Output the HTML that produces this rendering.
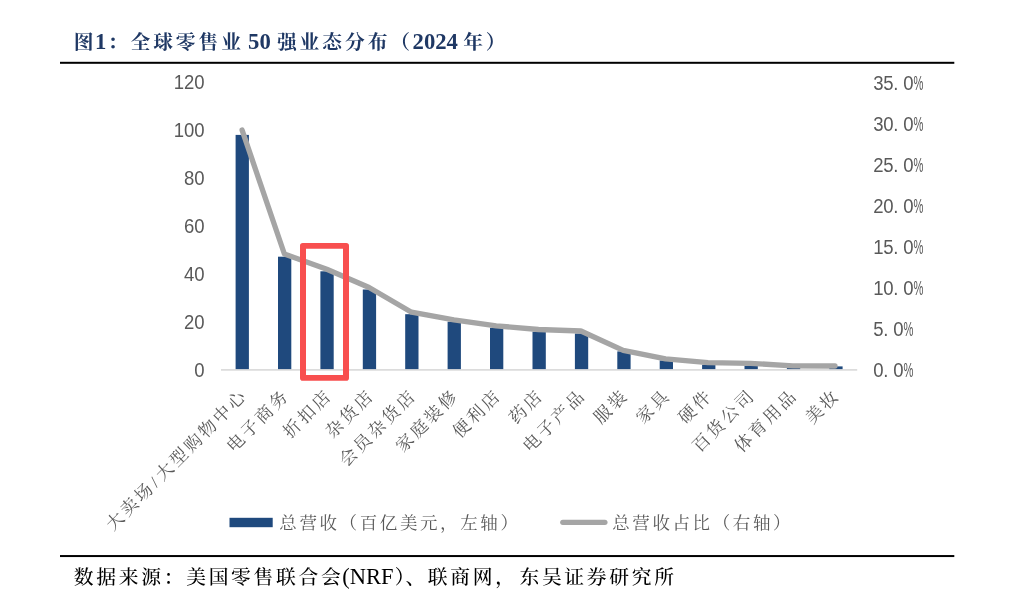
<!DOCTYPE html>
<html lang="zh-CN"><head><meta charset="utf-8"><title>图1：全球零售业50强业态分布（2024年）</title>
<style>html,body{margin:0;padding:0;background:#fff}body{width:1014px;height:597px;overflow:hidden}svg{display:block}
.kai{font-family:"Liberation Serif","Noto Serif CJK SC",serif}.sans{font-family:"Liberation Sans","Noto Sans CJK SC",sans-serif}
.title{font-weight:700;fill:#1f3864}.src{fill:#000}.ax{fill:#595959;font-size:18px}.cat{fill:#595959}.lg{fill:#595959}
</style></head><body>
<svg width="1014" height="597" viewBox="0 0 1014 597">
<rect width="1014" height="597" fill="#fff"/>
<text class="kai title" x="73.75" y="48.6" font-size="19.8" letter-spacing="2.9">图<tspan letter-spacing="0" font-size="22.7" dx="-1.45">1</tspan><tspan dx="1.45">：全球零售业</tspan><tspan letter-spacing="0" font-size="22.7" dx="-1.45"> 50 </tspan><tspan dx="0.45">强业态分布（</tspan><tspan letter-spacing="0" font-size="22.7" dx="-0.45">2024 </tspan><tspan dx="-0.4">年）</tspan></text>
<rect x="60" y="61.8" width="894.3" height="2" fill="#000"/>
<rect x="60" y="555.05" width="894.3" height="2" fill="#000"/>
<text class="kai src" x="73.75" y="583.6" font-size="19.8" letter-spacing="2.7" font-weight="500">数据来源：美国零售联合会<tspan letter-spacing="0" font-size="22.5" font-weight="400" dx="-1.35">(NRF</tspan><tspan dx="1.35">）</tspan><tspan dx="-2">、联商网，<tspan dx="1.6">东吴证券研究所</tspan></tspan></text>
<text class="sans ax" transform="translate(204.6,89.2) scale(1.03,1.09)" text-anchor="end">120</text>
<text class="sans ax" transform="translate(204.6,137.2) scale(1.03,1.09)" text-anchor="end">100</text>
<text class="sans ax" transform="translate(204.6,185.2) scale(1.03,1.09)" text-anchor="end">80</text>
<text class="sans ax" transform="translate(204.6,233.3) scale(1.03,1.09)" text-anchor="end">60</text>
<text class="sans ax" transform="translate(204.6,281.3) scale(1.03,1.09)" text-anchor="end">40</text>
<text class="sans ax" transform="translate(204.6,329.3) scale(1.03,1.09)" text-anchor="end">20</text>
<text class="sans ax" transform="translate(204.6,377.3) scale(1.03,1.09)" text-anchor="end">0</text>
<text class="sans ax" transform="translate(873.2,89.6) scale(1.03,1.09)" x="0.00 9.76 19.51 29.27">35.0<tspan x="39.08" textLength="9.63" lengthAdjust="spacingAndGlyphs">%</tspan></text>
<text class="sans ax" transform="translate(873.2,130.7) scale(1.03,1.09)" x="0.00 9.76 19.51 29.27">30.0<tspan x="39.08" textLength="9.63" lengthAdjust="spacingAndGlyphs">%</tspan></text>
<text class="sans ax" transform="translate(873.2,171.8) scale(1.03,1.09)" x="0.00 9.76 19.51 29.27">25.0<tspan x="39.08" textLength="9.63" lengthAdjust="spacingAndGlyphs">%</tspan></text>
<text class="sans ax" transform="translate(873.2,212.9) scale(1.03,1.09)" x="0.00 9.76 19.51 29.27">20.0<tspan x="39.08" textLength="9.63" lengthAdjust="spacingAndGlyphs">%</tspan></text>
<text class="sans ax" transform="translate(873.2,254.0) scale(1.03,1.09)" x="0.00 9.76 19.51 29.27">15.0<tspan x="39.08" textLength="9.63" lengthAdjust="spacingAndGlyphs">%</tspan></text>
<text class="sans ax" transform="translate(873.2,295.1) scale(1.03,1.09)" x="0.00 9.76 19.51 29.27">10.0<tspan x="39.08" textLength="9.63" lengthAdjust="spacingAndGlyphs">%</tspan></text>
<text class="sans ax" transform="translate(873.2,336.2) scale(1.03,1.09)" x="0.00 9.76 19.51">5.0<tspan x="29.32" textLength="9.63" lengthAdjust="spacingAndGlyphs">%</tspan></text>
<text class="sans ax" transform="translate(873.2,377.3) scale(1.03,1.09)" x="0.00 9.76 19.51">0.0<tspan x="29.32" textLength="9.63" lengthAdjust="spacingAndGlyphs">%</tspan></text>
<rect x="221.0" y="369.1" width="636.2" height="1.6" fill="#d9d9d9"/>
<rect x="235.6" y="134.9" width="13.3" height="234.2" fill="#1f497d"/>
<rect x="278.0" y="256.7" width="13.3" height="112.4" fill="#1f497d"/>
<rect x="320.4" y="271.3" width="13.3" height="97.8" fill="#1f497d"/>
<rect x="362.8" y="289.5" width="13.3" height="79.6" fill="#1f497d"/>
<rect x="405.2" y="314.2" width="13.3" height="54.9" fill="#1f497d"/>
<rect x="447.6" y="321.7" width="13.3" height="47.4" fill="#1f497d"/>
<rect x="490.0" y="327.8" width="13.3" height="41.3" fill="#1f497d"/>
<rect x="532.5" y="331.7" width="13.3" height="37.4" fill="#1f497d"/>
<rect x="574.9" y="333.5" width="13.3" height="35.6" fill="#1f497d"/>
<rect x="617.3" y="351.4" width="13.3" height="17.7" fill="#1f497d"/>
<rect x="659.7" y="360.4" width="13.3" height="8.7" fill="#1f497d"/>
<rect x="702.1" y="364.7" width="13.3" height="4.4" fill="#1f497d"/>
<rect x="744.5" y="365.8" width="13.3" height="3.3" fill="#1f497d"/>
<rect x="786.9" y="367.4" width="13.3" height="1.7" fill="#1f497d"/>
<rect x="829.3" y="366.4" width="13.3" height="2.7" fill="#1f497d"/>
<polyline points="242.1,130.1 284.4,254.0 326.8,269.3 369.1,287.5 411.5,312.2 453.9,319.9 496.2,325.8 538.5,329.5 580.9,331.0 623.2,350.4 665.6,358.8 708.0,362.7 750.3,363.3 792.7,365.9 835.0,366.0" fill="none" stroke="#a5a5a5" stroke-width="5.3" stroke-linejoin="round" stroke-linecap="round"/>
<path fill="#f84f4f" fill-rule="evenodd" d="M302.8 242.9H346.2A2.8 2.8 0 0 1 349 245.7V377.9A2.8 2.8 0 0 1 346.2 380.7H302.8A2.8 2.8 0 0 1 300 377.9V245.7A2.8 2.8 0 0 1 302.8 242.9ZM306 248.8V375H343V248.8Z"/>
<text class="kai cat" transform="translate(248.5,396.2) rotate(-45)" text-anchor="end" font-size="17.4" letter-spacing="2.8">大卖场<tspan dx="1">/</tspan><tspan dx="1">大型购物中心</tspan></text>
<text class="kai cat" transform="translate(290.8,396.2) rotate(-45)" text-anchor="end" font-size="17.4" letter-spacing="2.8">电子商务</text>
<text class="kai cat" transform="translate(333.2,396.2) rotate(-45)" text-anchor="end" font-size="17.4" letter-spacing="2.8">折扣店</text>
<text class="kai cat" transform="translate(375.5,396.2) rotate(-45)" text-anchor="end" font-size="17.4" letter-spacing="2.8">杂货店</text>
<text class="kai cat" transform="translate(417.8,396.2) rotate(-45)" text-anchor="end" font-size="17.4" letter-spacing="2.8">会员杂货店</text>
<text class="kai cat" transform="translate(460.1,396.2) rotate(-45)" text-anchor="end" font-size="17.4" letter-spacing="2.8">家庭装修</text>
<text class="kai cat" transform="translate(502.5,396.2) rotate(-45)" text-anchor="end" font-size="17.4" letter-spacing="2.8">便利店</text>
<text class="kai cat" transform="translate(544.8,396.2) rotate(-45)" text-anchor="end" font-size="17.4" letter-spacing="2.8">药店</text>
<text class="kai cat" transform="translate(587.1,396.2) rotate(-45)" text-anchor="end" font-size="17.4" letter-spacing="2.8">电子产品</text>
<text class="kai cat" transform="translate(629.5,396.2) rotate(-45)" text-anchor="end" font-size="17.4" letter-spacing="2.8">服装</text>
<text class="kai cat" transform="translate(671.8,396.2) rotate(-45)" text-anchor="end" font-size="17.4" letter-spacing="2.8">家具</text>
<text class="kai cat" transform="translate(714.1,396.2) rotate(-45)" text-anchor="end" font-size="17.4" letter-spacing="2.8">硬件</text>
<text class="kai cat" transform="translate(756.5,396.2) rotate(-45)" text-anchor="end" font-size="17.4" letter-spacing="2.8">百货公司</text>
<text class="kai cat" transform="translate(798.8,396.2) rotate(-45)" text-anchor="end" font-size="17.4" letter-spacing="2.8">体育用品</text>
<text class="kai cat" transform="translate(841.1,396.2) rotate(-45)" text-anchor="end" font-size="17.4" letter-spacing="2.8">美妆</text>
<rect x="229.5" y="517.8" width="43.2" height="9.4" fill="#1f497d"/>
<text class="kai lg" x="279.3" y="528.8" font-size="17.5" letter-spacing="2.6">总营收（百亿美元，左轴）</text>
<line x1="562.8" y1="522.3" x2="604.9" y2="522.3" stroke="#a5a5a5" stroke-width="5.3" stroke-linecap="round"/>
<text class="kai lg" x="612.2" y="528.8" font-size="17.5" letter-spacing="2.6">总营收占比（右轴）</text>
</svg></body></html>
